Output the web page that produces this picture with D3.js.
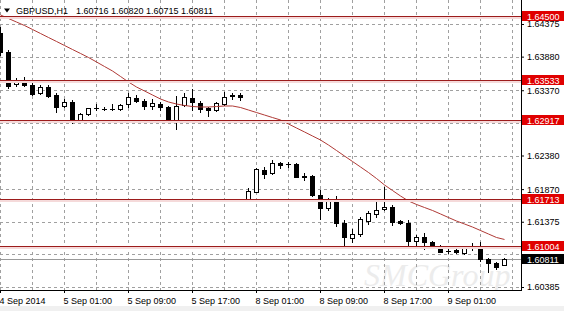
<!DOCTYPE html>
<html><head><meta charset="utf-8">
<script src="https://cdn.jsdelivr.net/npm/d3@7"></script>
<style>html,body{margin:0;padding:0;background:#fff;overflow:hidden}svg{display:block}</style>
</head><body><svg id="c" width="564" height="311"></svg>
<script>
const symbolTitle = "GBPUSD,H1";
const headerOHLC = ["1.60716", "1.60820", "1.60715", "1.60811"];
const opens = [1.64239,1.63950,1.63465,1.63515,1.63445,1.63324,1.63424,1.63298,1.63131,1.63187,
  1.62919,1.63005,1.63096,1.63090,1.63093,1.63085,1.63157,1.63257,1.63207,1.63131,
  1.63161,1.63111,1.62919,1.63146,1.63257,1.63181,1.63105,1.63070,1.63157,1.63287,
  1.63298,1.61705,1.61831,1.62160,1.62110,1.62271,1.62254,1.62251,1.62065,1.62069,
  1.61781,1.61579,1.61694,1.61351,1.61133,1.61182,1.61391,1.61493,1.61564,1.61603,
  1.61386,1.61351,1.61087,1.61139,1.61068,1.61007,1.60936,1.60942,1.60896,1.60996,
  1.60987,1.60805,1.60745,1.60716];
const highs = [1.64330,1.63981,1.63556,1.63571,1.63495,1.63445,1.63450,1.63324,1.63233,1.63222,
  1.63020,1.63105,1.63157,1.63111,1.63157,1.63161,1.63324,1.63298,1.63237,1.63233,
  1.63187,1.63131,1.63283,1.63324,1.63389,1.63207,1.63120,1.63196,1.63348,1.63333,
  1.63324,1.61882,1.62186,1.62210,1.62312,1.62286,1.62286,1.62262,1.62110,1.62084,
  1.61857,1.61731,1.61766,1.61401,1.61260,1.61442,1.61543,1.61705,1.61907,1.61629,
  1.61401,1.61401,1.61174,1.61200,1.61087,1.61022,1.60972,1.60957,1.61007,1.61048,
  1.61072,1.60820,1.60760,1.60820];
const lows = [1.63905,1.63404,1.63434,1.63434,1.63298,1.63313,1.63275,1.63045,1.63120,1.62869,
  1.62903,1.62994,1.63070,1.63070,1.63070,1.63070,1.63120,1.63187,1.63081,1.63081,
  1.63070,1.62908,1.62778,1.63131,1.63070,1.63045,1.62979,1.63060,1.63146,1.63233,
  1.63222,1.61694,1.61822,1.62034,1.62099,1.62186,1.62201,1.62049,1.62008,1.61766,
  1.61412,1.61553,1.61310,1.61007,1.61072,1.61163,1.61341,1.61452,1.61553,1.61326,
  1.61341,1.61018,1.61022,1.60957,1.61007,1.60912,1.60905,1.60896,1.60886,1.60946,
  1.60784,1.60617,1.60654,1.60715];
const closes = [1.63950,1.63434,1.63525,1.63450,1.63313,1.63424,1.63283,1.63120,1.63187,1.62919,
  1.63005,1.63096,1.63101,1.63093,1.63089,1.63146,1.63272,1.63207,1.63131,1.63172,
  1.63111,1.62919,1.63131,1.63263,1.63187,1.63081,1.63070,1.63172,1.63272,1.63292,
  1.63263,1.61846,1.62171,1.62099,1.62271,1.62240,1.62247,1.62058,1.62054,1.61781,
  1.61579,1.61694,1.61351,1.61139,1.61185,1.61417,1.61503,1.61553,1.61594,1.61376,
  1.61351,1.61087,1.61139,1.61063,1.61022,1.60921,1.60927,1.60916,1.60996,1.61001,
  1.60805,1.60745,1.60693,1.60811];
const maValues = [1.64512,1.64458,1.64405,1.64352,1.64292,1.64231,1.64170,1.64110,1.64049,1.63988,
  1.63928,1.63867,1.63799,1.63730,1.63662,1.63579,1.63495,1.63419,1.63359,1.63298,
  1.63237,1.63192,1.63161,1.63139,1.63123,1.63116,1.63116,1.63123,1.63131,1.63131,
  1.63108,1.63070,1.63032,1.62994,1.62956,1.62919,1.62858,1.62797,1.62737,1.62676,
  1.62615,1.62539,1.62456,1.62372,1.62289,1.62206,1.62122,1.62031,1.61933,1.61849,
  1.61766,1.61690,1.61637,1.61591,1.61546,1.61493,1.61439,1.61386,1.61341,1.61295,
  1.61242,1.61189,1.61136,1.61106];
const levelLines = [1.64500, 1.63533, 1.62917, 1.61713, 1.61004];
const bidPrice = 1.60811;
const gridPrices = [1.64375, 1.63880, 1.63370, 1.62875, 1.62380, 1.61870, 1.61375, 1.60880, 1.60385];
const labelPrices = [1.64375, 1.63880, 1.63370, 1.62380, 1.61870, 1.61375, 1.60385];
const timeTickIndex = [0, 8, 16, 24, 32, 40, 48, 56];
const timeLabels = ["4 Sep 2014", "5 Sep 01:00", "5 Sep 09:00", "5 Sep 17:00", "8 Sep 01:00", "8 Sep 09:00", "8 Sep 17:00", "9 Sep 01:00"];

const W = 564, H = 311, plotR = 521, plotB = 290;
const FONT = "'Liberation Sans', Arial, sans-serif";
const svg = d3.select("#c");
const x = d3.scaleLinear().domain([0, 63]).range([0, 504]);
const y = d3.scaleLinear().domain([1.60385, 1.64375]).range([287, 24]);
const snap = v => Math.round(v) + 0.5;

svg.append("rect").attr("width", W).attr("height", H).attr("fill", "#fff");
svg.append("rect").attr("x", 0).attr("y", 306).attr("width", W).attr("height", 5).attr("fill", "#f0f0f0");

svg.append("defs").append("clipPath").attr("id", "plot")
  .append("rect").attr("x", 0).attr("y", 0).attr("width", plotR).attr("height", plotB);
const plot = svg.append("g").attr("clip-path", "url(#plot)");

// watermark
plot.append("text").attr("x", 364).attr("y", 286)
  .attr("font-family", "'Liberation Serif', serif").attr("font-style", "italic")
  .attr("font-size", 32).attr("fill", "#ececec").text("SMCGroup");

// grid
const gridX = d3.range(0, 17).map(k => k * 4);
plot.selectAll("line.gx").data(gridX).join("line")
  .attr("x1", d => snap(x(d))).attr("x2", d => snap(x(d)))
  .attr("y1", 0).attr("y2", plotB)
  .attr("stroke", "#a0a0a0").attr("stroke-dasharray", "3,3");
plot.selectAll("line.gy").data(gridPrices).join("line")
  .attr("x1", 0).attr("x2", plotR)
  .attr("y1", d => snap(y(d))).attr("y2", d => snap(y(d)))
  .attr("stroke", "#a0a0a0").attr("stroke-dasharray", "3,3");

// bid line
plot.append("line").attr("x1", 0).attr("x2", plotR)
  .attr("y1", snap(y(bidPrice))).attr("y2", snap(y(bidPrice)))
  .attr("stroke", "#9a9a9a");

// candles
const idx = d3.range(opens.length);
plot.selectAll("line.wick").data(idx).join("line")
  .attr("x1", i => x(i) + 0.5).attr("x2", i => x(i) + 0.5)
  .attr("y1", i => Math.round(y(highs[i]))).attr("y2", i => Math.round(y(lows[i])) + 1)
  .attr("stroke", "#000");
plot.selectAll("rect.body").data(idx).join("rect")
  .each(function (i) {
    const top = Math.round(y(Math.max(opens[i], closes[i])));
    const bot = Math.round(y(Math.min(opens[i], closes[i])));
    const bull = closes[i] > opens[i];
    const s = d3.select(this);
    if (bull && bot - top >= 2) {
      s.attr("x", x(i) - 2 + 0.5).attr("y", top + 0.5).attr("width", 4).attr("height", bot - top)
        .attr("fill", "#fff").attr("stroke", "#000");
    } else {
      s.attr("x", x(i) - 2).attr("y", top).attr("width", 5).attr("height", Math.max(1, bot - top + 1))
        .attr("fill", "#000");
    }
  });

// moving average
plot.append("path").datum(maValues)
  .attr("d", d3.line().x((d, i) => x(i) + 0.5).y(d => y(d)))
  .attr("fill", "none").attr("stroke", "#b03a36").attr("stroke-width", 1);

// level lines
plot.selectAll("line.halo").data(levelLines).join("line")
  .attr("x1", 0).attr("x2", plotR)
  .attr("y1", d => snap(y(d)) + 1).attr("y2", d => snap(y(d)) + 1)
  .attr("stroke", "#f5dada").attr("stroke-width", 3);
plot.selectAll("line.lvl").data(levelLines).join("line")
  .attr("x1", 0).attr("x2", plotR)
  .attr("y1", d => snap(y(d))).attr("y2", d => snap(y(d)))
  .attr("stroke", "#9c1c1c");

// frame
svg.append("line").attr("x1", plotR + 0.5).attr("x2", plotR + 0.5).attr("y1", 0).attr("y2", plotB + 1).attr("stroke", "#000");
svg.append("line").attr("x1", 0).attr("x2", plotR + 1).attr("y1", plotB + 0.5).attr("y2", plotB + 0.5).attr("stroke", "#000");

// price axis
const yAxis = d3.axisRight(y).tickValues(labelPrices).tickSize(3).tickPadding(3)
  .tickFormat(d3.format(".5f"));
const gy = svg.append("g").attr("transform", `translate(${plotR},0)`).call(yAxis);
gy.select(".domain").remove();
gy.selectAll("text").attr("font-family", FONT).attr("font-size", 9).attr("fill", "#000");
gy.selectAll("line").attr("stroke", "#000");

// time axis
const xAxis = d3.axisBottom(x).tickValues(timeTickIndex).tickSize(3).tickPadding(5)
  .tickFormat((d, k) => timeLabels[k]);
const gx = svg.append("g").attr("transform", `translate(0,${plotB})`).call(xAxis);
gx.select(".domain").remove();
gx.selectAll("text").attr("text-anchor", "start").attr("dx", -1)
  .attr("font-family", FONT).attr("font-size", 9).attr("fill", "#000");
gx.selectAll("line").attr("stroke", "#000");

// price tags
const tags = levelLines.map(p => ({ p, bg: "#e00000" })).concat([{ p: bidPrice, bg: "#000" }]);
const tg = svg.selectAll("g.tag").data(tags).join("g")
  .attr("transform", d => `translate(${plotR + 1},${Math.round(y(d.p))})`);
tg.append("rect").attr("x", 0).attr("y", -5).attr("width", W - plotR).attr("height", 10).attr("fill", d => d.bg);
tg.append("text").attr("x", 5).attr("y", 3.5).attr("font-family", FONT).attr("font-size", 9)
  .attr("fill", "#fff").text(d => d3.format(".5f")(d.p));

// header
svg.append("path").attr("d", "M4,8.5L10,8.5L7,12.5Z").attr("fill", "#000");
svg.append("text").attr("x", 16).attr("y", 13.5).attr("font-family", FONT).attr("font-size", 9)
  .attr("fill", "#000").text(symbolTitle);
svg.append("text").attr("x", 76).attr("y", 13.5).attr("font-family", FONT).attr("font-size", 9)
  .attr("fill", "#000").text(headerOHLC.join(" "));
</script>
</body></html>
